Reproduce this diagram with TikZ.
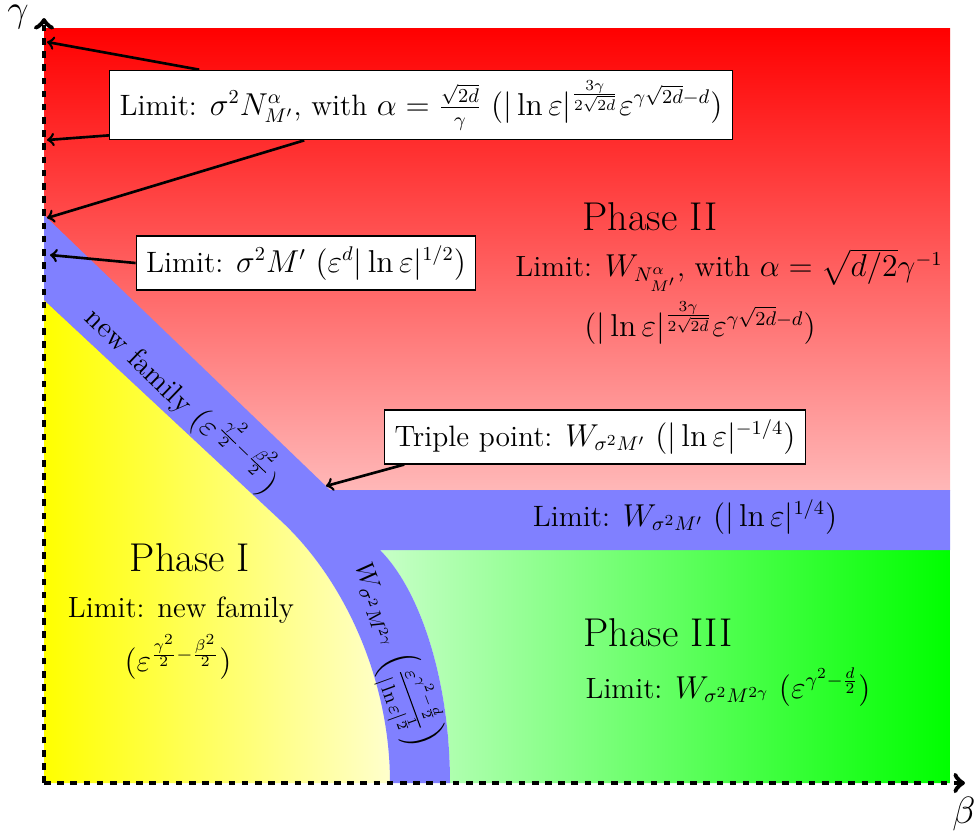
\documentclass[tikz,border=0pt]{standalone}
\usepackage{amsmath,amssymb}
\usetikzlibrary{calc}

\newcommand{\titlesize}{\fontsize{18.3}{22}\selectfont}
\newcommand{\regionsize}{\fontsize{13.3}{16}\selectfont}
\newcommand{\boxsize}{\fontsize{13.4}{16}\selectfont}

\begin{document}
\begin{tikzpicture}[x=0.455pt,y=-0.455pt,line width=0.5pt,
  limitbox/.style={draw,fill=white,inner sep=4.5pt,font=\boxsize},
  pointer/.style={->,very thick},
  axis/.style={->,dashed,line width=2.2pt}]
  \useasboundingbox (0,0) rectangle (977,835);
  \shade[top color=red,bottom color=red!28] (44,28) rectangle (950,490);
  \shade[left color=yellow,right color=yellow!20] (44,300) -- (280,520) .. controls (345,580) and (390,680) .. (390,783) -- (44,783) -- cycle;
  \shade[left color=green!22,right color=green] (380,550) -- (950,550) -- (950,783) -- (450,783) .. controls (450,680) and (420,590) .. (380,550) -- cycle;
  \fill[blue!50] (44,215) -- (330,490) -- (950,490) -- (950,550) -- (380,550) .. controls (420,590) and (450,680) .. (450,783) -- (390,783) .. controls (390,680) and (345,580) .. (280,520) -- (44,300) -- cycle;
  \draw[axis] (44,783) -- (44,18);
  \draw[axis] (44,783) -- (965,783);
  \node[inner sep=0pt] (gam) at (18,17) {\LARGE$\gamma$};
  \node[inner sep=0pt] (bet) at (964,814) {\LARGE$\beta$};

  \node (ph2) at (650,217) {\titlesize Phase II};
  \node (ph2a) at (729,270) {\regionsize Limit: $W_{N^\alpha_{M'}}$, with $\alpha=\sqrt{d/2}\gamma^{-1}$};
  \node (ph2b) at (700,323) {\regionsize $(|\ln\varepsilon|^{\frac{3\gamma}{2\sqrt{2d}}}\varepsilon^{\gamma\sqrt{2d}-d})$};
  \node (ph1) at (190,558) {\titlesize Phase I};
  \node (ph1a) at (181,610) {\regionsize Limit: new family};
  \node (ph1b) at (178,657) {\regionsize $(\varepsilon^{\frac{\gamma^2}{2}-\frac{\beta^2}{2}})$};
  \node (ph3) at (658,633) {\titlesize Phase III};
  \node (ph3a) at (728,687) {\regionsize Limit: $W_{\sigma^2M^{2\gamma}}$ $(\varepsilon^{\gamma^2-\frac{d}{2}})$};
  \node (band) at (685,517) {\boxsize Limit: $W_{\sigma^2M'}$ $(|\ln\varepsilon|^{1/4})$};
  \node[rotate=-44,inner sep=0pt] (nf) at (185,397) {\regionsize new family $(\varepsilon^{\frac{\gamma^2}{2}-\frac{\beta^2}{2}})$};
  \node[rotate=-70,inner sep=0pt] (wm) at (393,655) {\fontsize{12.4}{15}\selectfont $W_{\sigma^2M^{2\gamma}}$ $\Big(\frac{\varepsilon^{\gamma^2-\frac{d}{2}}}{|\ln\varepsilon|^{\frac{1}{2}}}\Big)$};

  \node[limitbox] (lim1) at (421,105) {Limit: $\sigma^2N^\alpha_{M'}$, with $\alpha=\frac{\sqrt{2d}}{\gamma}$ $(|\ln\varepsilon|^{\frac{3\gamma}{2\sqrt{2d}}}\varepsilon^{\gamma\sqrt{2d}-d})$};
  \node[limitbox] (lim2) at (306,263) {Limit: $\sigma^2M'$ $(\varepsilon^d|\ln\varepsilon|^{1/2})$};
  \node[limitbox] (trip) at (595,437) {Triple point: $W_{\sigma^2M'}$ $(|\ln\varepsilon|^{-1/4})$};

  \coordinate (t1) at (47,42);
  \coordinate (t2) at (47,140);
  \coordinate (t3) at (47,218);
  \coordinate (t4) at (50,255);
  \coordinate (t5) at (326,486);
  \draw[pointer] ($(lim1.north west)+(90,0)$) -- (t1);
  \draw[pointer] ($(lim1.south west)+(0,-5)$) -- (t2);
  \draw[pointer] ($(lim1.south west)+(195,0)$) -- (t3);
  \draw[pointer] (lim2.west) -- (t4);
  \draw[pointer] ($(trip.south west)+(20,0)$) -- (t5);
\end{tikzpicture}
\end{document}
